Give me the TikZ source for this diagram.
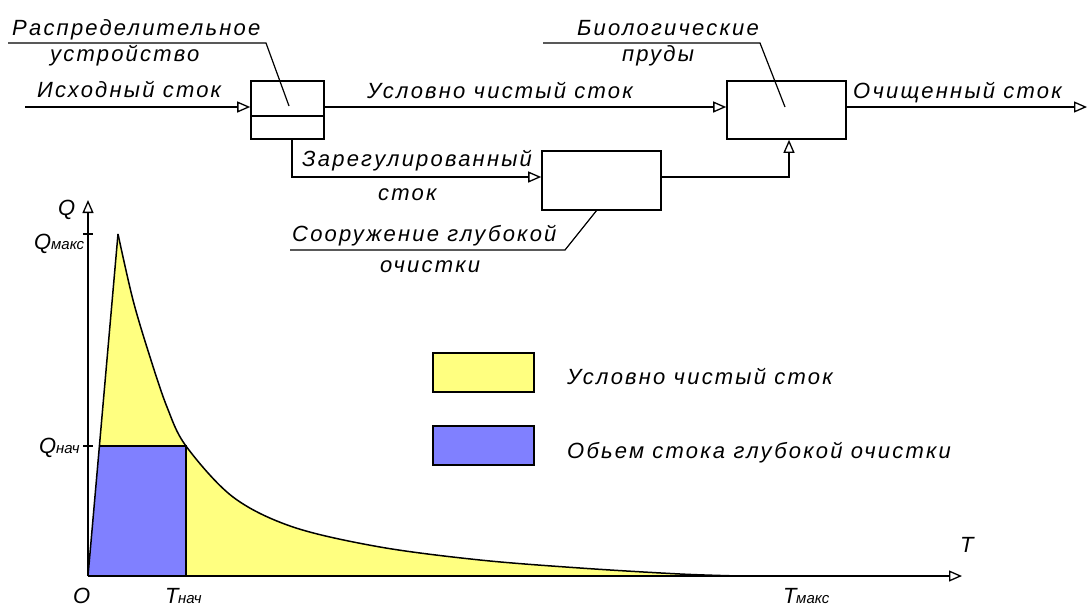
\documentclass[tikz,border=0pt]{standalone}
\usepackage{fontspec}
\usetikzlibrary{arrows.meta}
\newfontfamily\gostfont{Liberation Sans}[LetterSpace=10]
\newfontfamily\gostsubfont{Liberation Sans}[LetterSpace=0]
\newcommand\gostmain{\gostfont\itshape\fontsize{22}{26}\selectfont}
\newcommand\gostsub{\gostsubfont\itshape\fontsize{15}{17}\selectfont}
\definecolor{yel}{RGB}{255,255,128}
\definecolor{blu}{RGB}{128,128,255}
\begin{document}
\begin{tikzpicture}[x=1pt,y=-1pt,
  lbl/.style={anchor=base west, inner sep=0pt, font=\gostmain},
  sublbl/.style={anchor=base west, inner sep=0pt, font=\gostsub},
  blk/.style={draw, line width=1.6pt, inner sep=0pt, fill=white},
  ln/.style={line width=1.5pt},
  flow/.style={line width=1.6pt, -{Triangle[open, length=13pt, width=11pt, line width=1.3pt]}},
  thin/.style={line width=1.2pt}]
\useasboundingbox (0,0) rectangle (1089,608);
% ---------- flow scheme ----------
\node[blk, minimum width=73pt, minimum height=58pt] (dist) at (287.5,110) {};
\node[blk, minimum width=119pt, minimum height=58pt] (bio) at (786.5,110) {};
\node[blk, minimum width=119pt, minimum height=59pt] (deep) at (601.5,180.5) {};
\coordinate (div) at (251,116);
\draw[ln] (dist.west |- div) -- (dist.east |- div);
\coordinate (in) at (25,107);
\coordinate (out) at (1087,107);
\coordinate (br) at (292,177);
\coordinate (jn) at (789,177);
\draw[flow] (in) -- (in -| dist.west);
\draw[flow] (dist.east |- in) -- (bio.west |- in);
\draw[flow] (bio.east |- in) -- (out);
\draw[flow] (dist.south -| br) -- (br) -- (deep.west |- br);
\draw[flow] (deep.east |- jn) -- (jn) -- (bio.south -| jn);
% leaders
\coordinate (l1a) at (8,43); \coordinate (l1b) at (266,43); \coordinate (l1c) at (289,106);
\draw[thin] (l1a) -- (l1b) -- (l1c);
\coordinate (l2a) at (543,43); \coordinate (l2b) at (760,43); \coordinate (l2c) at (785,107);
\draw[thin] (l2a) -- (l2b) -- (l2c);
\coordinate (l3a) at (290,250); \coordinate (l3b) at (565,250); \coordinate (l3c) at (597,210);
\draw[thin] (l3a) -- (l3b) -- (l3c);
% labels
\node[lbl] (t1) at (12,35) {Распределительное};
\node[lbl] (t2) at (50,61) {устройство};
\node[lbl] (t3) at (37,97) {Исходный сток};
\node[lbl] (t4) at (367,98) {Условно чистый сток};
\node[lbl] (t5) at (577,35) {Биологические};
\node[lbl] (t6) at (622,61) {пруды};
\node[lbl] (t7) at (853,98) {Очищенный сток};
\node[lbl] (t8) at (302,166) {Зарегулированный};
\node[lbl] (t9) at (378,200) {сток};
\node[lbl] (t10) at (292,241) {Сооружение глубокой};
\node[lbl] (t11) at (380,272) {очистки};
% ---------- graph ----------
\coordinate (O) at (88,576);
\coordinate (pk) at (118,234);
\coordinate (qn) at (99.4,446);
\coordinate (cn) at (186,446);
\coordinate (tn) at (186,576);
\def\curvepts{(118,234) (133,300) (150,357) (167,407) (186,446) (233,497) (293,527) (380,547) (480,560) (580,568) (680,574) (740,576)}
\fill[yel] (O) -- plot[smooth, tension=0.55] coordinates {\curvepts} -- cycle;
\fill[blu] (O) -- (qn) -- (cn) -- (tn) -- cycle;
\draw[ln] plot[smooth, tension=0.55] coordinates {\curvepts};
\draw[ln] (O) -- (pk);
\draw[ln] (qn) -- (cn) -- (tn);
\coordinate (xend) at (962,576);
\coordinate (yend) at (88,200);
\draw[flow] (O) -- (xend);
\draw[flow] (O) -- (yend);
\coordinate (tk1) at (88,234);
\coordinate (tk2) at (88,446);
\draw[ln] ([xshift=-5pt]tk1) -- ([xshift=5pt]tk1);
\draw[ln] ([xshift=-5pt]tk2) -- ([xshift=5pt]tk2);
\node[lbl] (q) at (58,215) {Q};
\node[lbl] (qm) at (34,249) {Q};
\node[sublbl] (qms) at (51,249) {макс};
\node[lbl] (qh) at (39,453) {Q};
\node[sublbl] (qhs) at (56,453) {нач};
\node[lbl] (o) at (73,603) {O};
\node[lbl] (th) at (165,603) {T};
\node[sublbl] (ths) at (178,603) {нач};
\node[lbl] (tt) at (960,552) {T};
\node[lbl] (tm) at (783,603) {T};
\node[sublbl] (tms) at (796,603) {макс};
% legend
\node[draw, line width=1.2pt, fill=yel, minimum width=101pt, minimum height=39pt, inner sep=0pt] (ly) at (483.5,372.5) {};
\node[draw, line width=1.2pt, fill=blu, minimum width=101pt, minimum height=39pt, inner sep=0pt] (lb) at (483.5,445.5) {};
\node[lbl] (ty) at (567,384) {Условно чистый сток};
\node[lbl] (tb) at (567,458) {Обьем стока глубокой очистки};
\end{tikzpicture}
\end{document}
